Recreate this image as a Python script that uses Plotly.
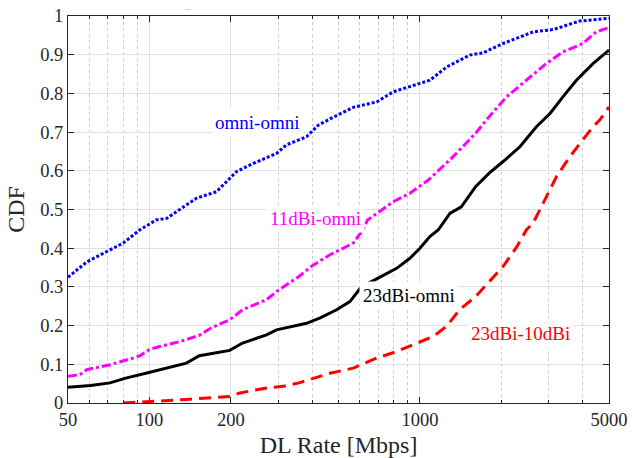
import math
import plotly.graph_objects as go

# ---- data ----
omni_x = [50, 58.8, 79.9, 92, 106, 115.8, 149, 177, 210, 242, 295, 321, 381, 421, 465,
          567, 692, 797, 1000, 1088, 1260, 1529, 1713, 2031, 2621, 3108, 3899, 5000]
omni_y = [0.325, 0.365, 0.413, 0.447, 0.473, 0.477, 0.529, 0.546, 0.598, 0.619, 0.645,
          0.667, 0.688, 0.718, 0.734, 0.764, 0.778, 0.804, 0.826, 0.834, 0.869, 0.899,
          0.905, 0.929, 0.959, 0.965, 0.987, 0.994]

d11_x = [50, 55.3, 58.6, 71.5, 87, 92, 100, 109, 130, 153, 170, 198, 221, 271, 295, 357,
         400, 465, 567, 615, 640, 797, 918, 1074, 1324, 1606, 1803, 2090, 2474, 2930,
         3377, 4001, 4485, 5000]
d11_y = [0.069, 0.073, 0.086, 0.099, 0.116, 0.122, 0.138, 0.146, 0.159, 0.175, 0.195,
         0.215, 0.241, 0.267, 0.288, 0.327, 0.355, 0.383, 0.413, 0.447, 0.473, 0.520,
         0.542, 0.576, 0.636, 0.697, 0.740, 0.791, 0.834, 0.877, 0.907, 0.929, 0.959,
         0.970]

d23_x = [50, 60.6, 71.5, 82.4, 97, 109, 137, 153, 177, 198, 221, 271, 295, 381, 428,
         492, 551, 609, 681, 820, 918, 1000, 1088, 1168, 1291, 1422, 1606, 1803, 2031,
         2342, 2695, 3027, 3377, 3789, 4364, 5000]
d23_y = [0.041, 0.045, 0.052, 0.065, 0.077, 0.086, 0.103, 0.122, 0.131, 0.136, 0.155,
         0.176, 0.189, 0.206, 0.220, 0.241, 0.262, 0.301, 0.318, 0.348, 0.374, 0.400,
         0.430, 0.447, 0.490, 0.507, 0.559, 0.594, 0.624, 0.662, 0.714, 0.748, 0.791,
         0.834, 0.877, 0.912]

d2310_x = [80, 103, 137, 198, 216, 271, 312, 357, 428, 465, 567, 692, 820, 946, 1044,
           1121, 1254, 1401, 1606, 1803, 2031, 2282, 2474, 2621, 2860, 3199, 3580, 4001,
           4364, 4620, 5000]
d2310_y = [0.0, 0.004, 0.009, 0.017, 0.026, 0.039, 0.043, 0.052, 0.069, 0.077, 0.090,
           0.116, 0.133, 0.150, 0.163, 0.172, 0.198, 0.241, 0.275, 0.314, 0.353, 0.404,
           0.447, 0.465, 0.516, 0.585, 0.636, 0.679, 0.714, 0.731, 0.765]

x_ticks = [50, 100, 200, 1000, 5000]
x_minor = [60, 70, 80, 90, 300, 400, 500, 600, 700, 800, 900, 2000, 3000, 4000]
y_ticks = [0, 0.1, 0.2, 0.3, 0.4, 0.5, 0.6, 0.7, 0.8, 0.9, 1]

labels = ["omni-omni", "11dBi-omni", "23dBi-omni", "23dBi-10dBi"]
label_x = [250, 412, 910, 2350]
label_y = [0.726, 0.476, 0.277, 0.179]
colors = ["#0000FF", "#FF00FF", "#000000", "#FF0000"]

FONT = "Liberation Serif"

fig = go.Figure()
series = [(omni_x, omni_y, "3px,2px"), (d11_x, d11_y, "9px,3px,3px,3px"),
          (d23_x, d23_y, "solid"), (d2310_x, d2310_y, "12px,7px")]
for (xs, ys, dash), c, name in zip(series, colors, labels):
    fig.add_trace(go.Scatter(x=xs, y=ys, mode="lines", name=name,
                             line=dict(color=c, width=3, dash=dash),
                             showlegend=False, hoverinfo="skip"))

for t, lx, ly, c in zip(labels, label_x, label_y, colors):
    fig.add_annotation(x=math.log10(lx), y=ly, xref="x", yref="y", text=t,
                       showarrow=False, bgcolor="white", borderpad=3,
                       font=dict(family=FONT, size=19, color=c))

fig.add_annotation(x=(188 - 68) / (609 - 68), y=1 + (16 - 8) / 387,
                   xref="paper", yref="paper", text="–", xanchor="center",
                   yanchor="middle", showarrow=False,
                   font=dict(family=FONT, size=10, color="#aaaaaa"))

axis_common = dict(showline=True, linecolor="#262626", linewidth=1, mirror="ticks",
                   ticks="inside", ticklen=6, tickcolor="#262626", automargin=False,
                   tickfont=dict(family=FONT, size=18.5, color="#262626"),
                   gridcolor="#e0e0e0", gridwidth=1, zeroline=False)

fig.update_xaxes(type="log", range=[math.log10(50), math.log10(5000)],
                 tickmode="array", tickvals=x_ticks, ticktext=[str(v) for v in x_ticks],
                 minor=dict(tickmode="array", tickvals=x_minor, ticks="inside", ticklen=3,
                            tickcolor="#262626", showgrid=True, griddash="dot",
                            gridcolor="#cccccc", gridwidth=1),
                 title=dict(text="DL Rate [Mbps]", standoff=7,
                            font=dict(family=FONT, size=24, color="#262626")),
                 **axis_common)
fig.update_yaxes(range=[0, 1], tickmode="array", tickvals=y_ticks,
                 ticktext=[("%g" % v) for v in y_ticks],
                 title=dict(text="CDF", standoff=8,
                            font=dict(family=FONT, size=24, color="#262626")),
                 **axis_common)

fig.update_layout(width=632, height=458, autosize=False,
                  margin=dict(l=68, r=23, t=16, b=55),
                  paper_bgcolor="white", plot_bgcolor="white",
                  font=dict(family=FONT))

fig.write_html("out.html")
